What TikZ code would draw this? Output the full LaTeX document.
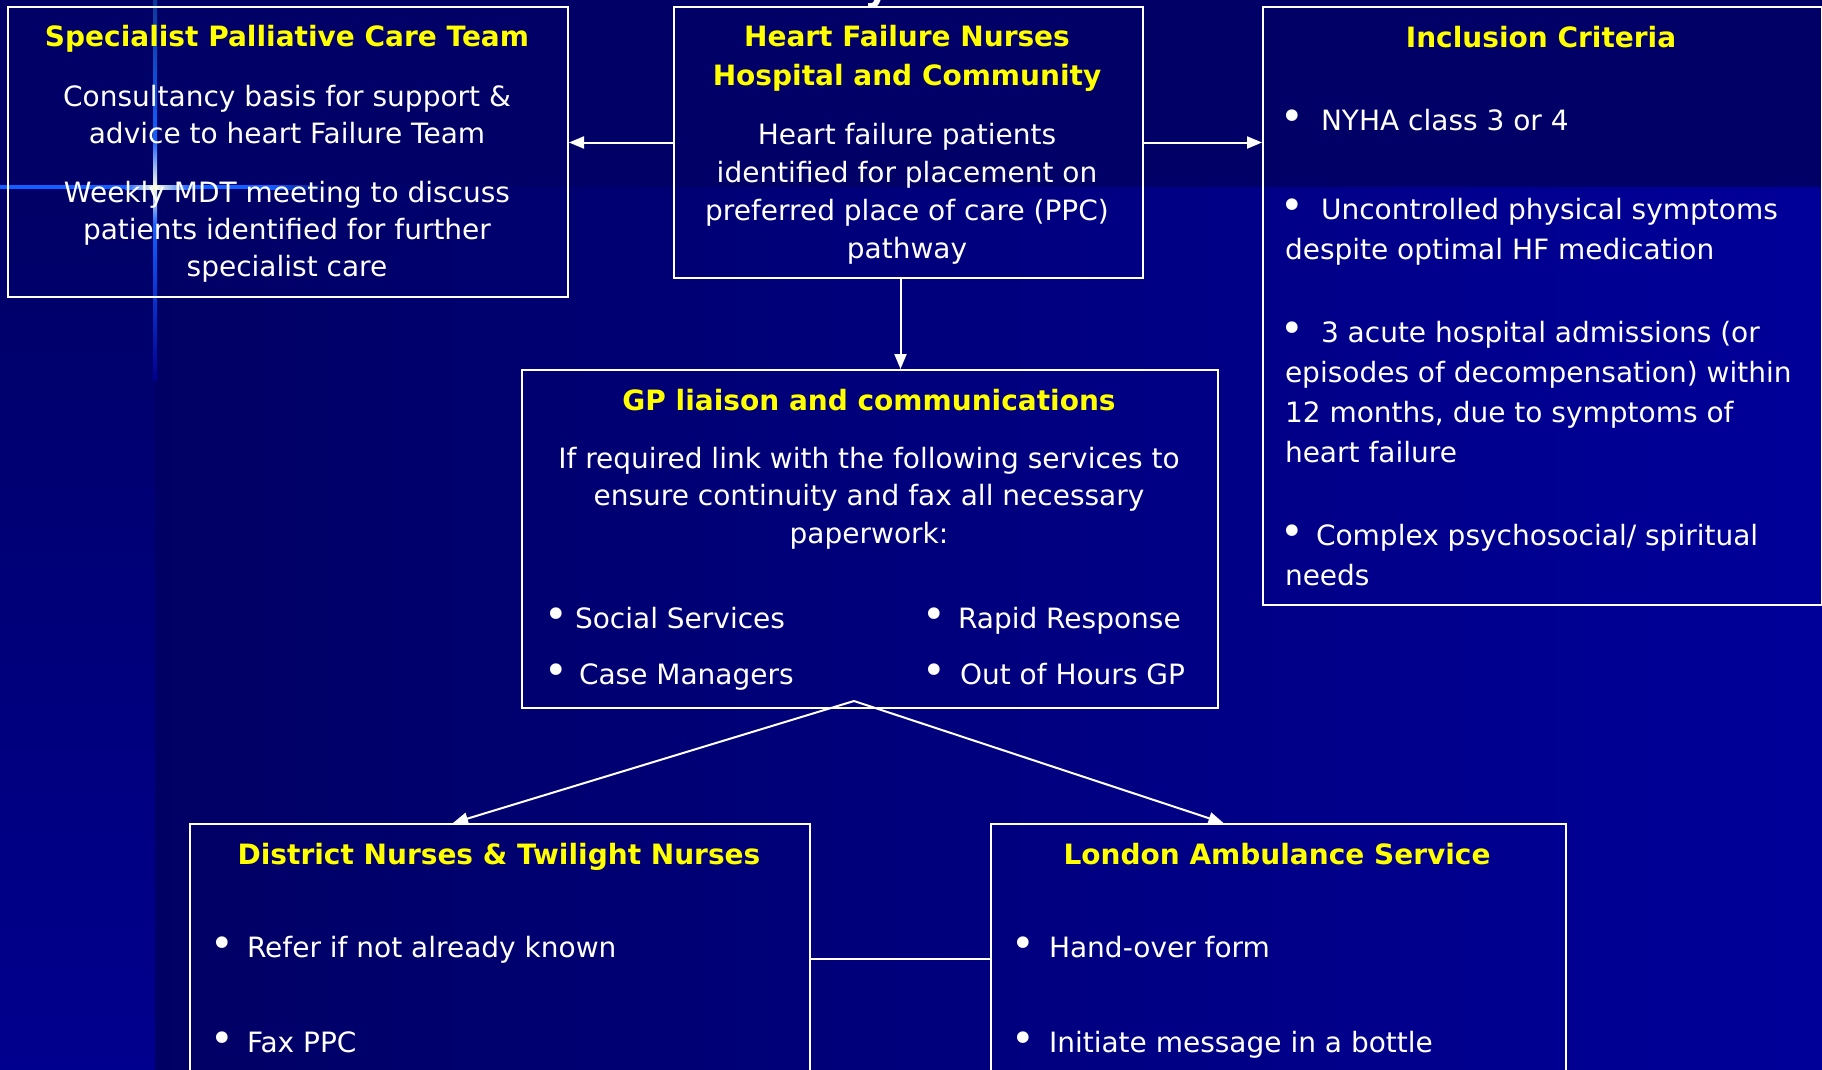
\documentclass[tikz,border=0pt]{standalone}
\usepackage{fontspec}
\setmainfont{DejaVu Sans}
\usetikzlibrary{arrows.meta}
\usetikzlibrary{positioning}

\newcommand{\bul}{\hspace*{-5pt}{\fontsize{40}{40}\selectfont\textbullet}}

\begin{document}
\begin{tikzpicture}[x=1pt,y=-1pt,>={Triangle[length=15pt,width=12pt]},line width=2pt,
	box/.style={rectangle,draw=white,anchor=north west,inner sep=0pt},
	head/.style={text=headyellow,font=\fontsize{28}{39}\selectfont\bfseries,anchor=base,inner sep=0pt,align=center},
	body/.style={text=white,font=\fontsize{28}{38}\selectfont,anchor=base,inner sep=0pt,align=center},
	item/.style={text=white,font=\fontsize{28}{40}\selectfont,anchor=base west,inner sep=0pt,align=left}]
	
	\definecolor{bandblue}{RGB}{0,0,102}
	\definecolor{deepblue}{RGB}{0,0,100}
	\definecolor{brightblue}{RGB}{0,0,153}
	\definecolor{stripblue}{RGB}{0,0,142}
	\definecolor{flareblue}{RGB}{20,95,255}
	\definecolor{flarewhite}{RGB}{255,255,225}
	\definecolor{headyellow}{RGB}{255,255,0}
	
	\useasboundingbox (0,0) rectangle (1822,1070);
	
	% slide background
	\fill[bandblue] (0,0) rectangle (1822,187);
	\shade[left color=deepblue, right color=brightblue] (155,187) rectangle (1822,1070);
	\shade[top color=bandblue, bottom color=stripblue] (0,187) rectangle (155,1070);
	\fill[flareblue] (0,185) rectangle (125,189);
	\shade[left color=flareblue, right color=flarewhite] (125,185) rectangle (155,189);
	\shade[left color=flarewhite, right color=flareblue] (155,185) rectangle (190,189);
	\fill[flareblue] (190,185) rectangle (270,189);
	\shade[left color=flareblue, right color=bandblue] (270,185) rectangle (330,189);
	\shade[top color=flareblue!60!black, bottom color=flareblue] (153,0) rectangle (157,140);
	\shade[top color=flareblue, bottom color=flarewhite] (153,140) rectangle (157,187);
	\shade[top color=flarewhite, bottom color=flareblue] (153,187) rectangle (157,225);
	\shade[top color=flareblue, bottom color=stripblue] (153,225) rectangle (157,380);
	
	\node[text=white,font=\fontsize{40}{40}\selectfont\bfseries,anchor=base,inner sep=0pt] (slidetitle) at (878,0) {y};
	
	\node[box, minimum width=560pt, minimum height=290pt] (spct) at (7,6) {};
	\node[box, minimum width=469pt, minimum height=271pt] (hfn) at (673,6) {};
	\node[box, minimum width=559pt, minimum height=598pt] (incl) at (1262,6) {};
	\node[box, minimum width=696pt, minimum height=338pt] (gp) at (521,369) {};
	\node[box, minimum width=620pt, minimum height=270pt] (dn) at (189,823) {};
	\node[box, minimum width=575pt, minimum height=270pt] (las) at (990,823) {};
	
	% last line of each text sits on the given baseline
	\node[head] (spcthead) at (287,47) {Specialist Palliative Care Team};
	\node[body, font=\fontsize{28}{37}\selectfont] (spctone) at (287,143) {Consultancy basis for support \&\\advice to heart Failure Team};
	\node[body, font=\fontsize{28}{37}\selectfont] (spcttwo) at (287,276) {Weekly MDT meeting to discuss\\patients identified for further\\specialist care};
	
	\node[head] (hfnhead) at (907,86) {Heart Failure Nurses\\Hospital and Community};
	\node[body] (hfnbody) at (907,258) {Heart failure patients\\identified for placement on\\preferred place of care (PPC)\\pathway};
	
	\node[head] (inclhead) at (1541,48) {Inclusion Criteria};
	\node[item] (critone) at (1284,131) {\makebox[36pt][l]{\bul}NYHA class 3 or 4};
	\node[item] (crittwo) at (1284,259) {\makebox[36pt][l]{\bul}Uncontrolled physical symptoms\\despite optimal HF medication};
	\node[item] (critthree) at (1284,462) {\makebox[36pt][l]{\bul}3 acute hospital admissions (or\\episodes of decompensation) within\\12 months, due to symptoms of\\heart failure};
	\node[item] (critfour) at (1284,585) {\makebox[31pt][l]{\bul}Complex psychosocial/ spiritual\\needs};
	
	\node[head] (gphead) at (869,410) {GP liaison and communications};
	\node[body, font=\fontsize{28}{37.5}\selectfont] (gpbody) at (869,543) {If required link with the following services to\\ensure continuity and fax all necessary\\paperwork:};
	\node[item] (social) at (548,628) {\makebox[26pt][l]{\bul}Social Services};
	\node[item] (casemgr) at (548,684) {\makebox[30pt][l]{\bul}Case Managers};
	\node[item] (rapid) at (926,628) {\makebox[31pt][l]{\bul}Rapid Response};
	\node[item] (outhours) at (926,684) {\makebox[33pt][l]{\bul}Out of Hours GP};
	
	\node[head] (dnhead) at (499,864) {District Nurses \& Twilight Nurses};
	\node[item] (refer) at (214,957) {\makebox[32pt][l]{\bul}Refer if not already known};
	\node[item] (faxppc) at (214,1052) {\makebox[32pt][l]{\bul}Fax PPC};
	
	\node[head] (lashead) at (1277,864) {London Ambulance Service};
	\node[item] (handover) at (1015,957) {\makebox[33pt][l]{\bul}Hand-over form};
	\node[item] (bottle) at (1015,1052) {\makebox[33pt][l]{\bul}Initiate message in a bottle};
	
	\coordinate (fork) at (854,701);
	
	\draw[->,white] (hfn.west) -- (hfn.west -| spct.east);
	\draw[->,white] (hfn.east) -- (hfn.east -| incl.west);
	\draw[->,white] ([xshift=-8pt]hfn.south) -- ([xshift=-8pt]hfn.south |- gp.north);
	\draw[->,white] (fork) -- ([xshift=-47pt]dn.north);
	\draw[->,white] (fork) -- ([xshift=-55pt]las.north);
	\draw[white] (dn.east) -- (las.west);
\end{tikzpicture}
\end{document}
